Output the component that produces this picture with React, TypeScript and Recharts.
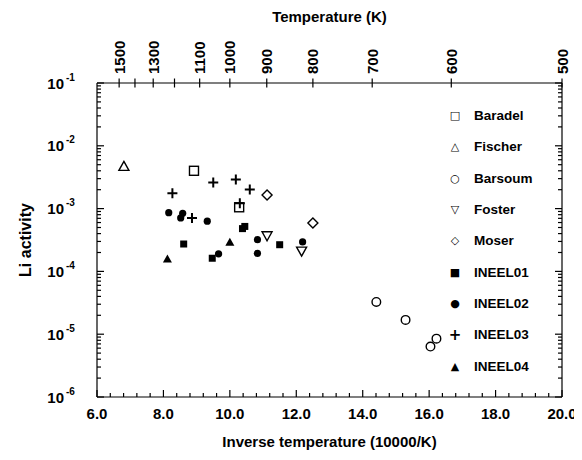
import { ScatterChart, Scatter, XAxis, YAxis, Legend } from "recharts";

// values (x = 10000/T, y = Li activity)
const baradelX = [8.92, 10.28];
const baradelY = [4.0e-3, 1.05e-3];
const fischerX = [6.81];
const fischerY = [4.7e-3];
const barsoumX = [14.41, 15.29, 16.22, 16.04];
const barsoumY = [3.26e-5, 1.69e-5, 8.5e-6, 6.35e-6];
const fosterX = [11.12, 12.16];
const fosterY = [3.7e-4, 2.1e-4];
const moserX = [11.12, 12.5];
const moserY = [1.64e-3, 5.9e-4];
const ineel01X = [8.61, 9.47, 10.38, 10.45, 11.5];
const ineel01Y = [2.73e-4, 1.62e-4, 4.8e-4, 5.2e-4, 2.66e-4];
const ineel02X = [8.16, 8.58, 8.52, 9.32, 9.66, 10.83, 10.83, 12.19];
const ineel02Y = [8.6e-4, 8.4e-4, 7.1e-4, 6.3e-4, 1.9e-4, 3.2e-4, 1.94e-4, 2.95e-4];
const ineel03X = [8.27, 9.5, 10.18, 10.6, 8.86, 10.3];
const ineel03Y = [1.75e-3, 2.6e-3, 2.9e-3, 2.02e-3, 7.1e-4, 1.22e-3];
const ineel04X = [8.12, 10.0];
const ineel04Y = [1.58e-4, 2.9e-4];

const xMajorTicks = [6, 8, 10, 12, 14, 16, 18, 20];
const tempTicks = [1500, 1400, 1300, 1200, 1100, 1000, 900, 800, 700, 600, 500];
const tempLabels = [1500, 1300, 1100, 1000, 900, 800, 700, 600, 500];
const decades = [-6, -5, -4, -3, -2, -1];

const FONT = "'Liberation Sans', Arial, Helvetica, sans-serif";

// chart sits at the body's 8px offset; margins put the plot box at (97,83)-(562,397)
const MARGIN = { top: 15, right: 19, bottom: 23, left: 29 };
const CHART_W = 574;
const CHART_H = 452;

const toPoints = (xs: number[], ys: number[]) => xs.map((x, i) => ({ x, y: ys[i] }));

const xMinor = Array.from({ length: 36 }, (_, i) => Number((6 + i * 0.4).toFixed(1)));
const yTicks: number[] = [];
decades.forEach((d) => {
  if (d === -1) {
    yTicks.push(0.1);
    return;
  }
  for (let m = 1; m <= 9; m++) yTicks.push(Number((m * Math.pow(10, d)).toPrecision(3)));
});
const isDecade = (v: number) => Math.abs(Math.log10(v) - Math.round(Math.log10(v))) < 1e-6;
const isMajorX = (v: number) => xMajorTicks.some((t) => Math.abs(t - v) < 1e-6);

const Mark = ({ kind, cx, cy }: { kind: string; cx: number; cy: number }) => {
  const s = { stroke: "#000", strokeWidth: 1.4, fill: "none" };
  switch (kind) {
    case "openSquare":
      return <rect x={cx - 4.5} y={cy - 4.5} width={9} height={9} {...s} />;
    case "openTriangle":
      return <polygon points={`${cx},${cy - 5} ${cx + 5},${cy + 4} ${cx - 5},${cy + 4}`} {...s} />;
    case "openCircle":
      return <circle cx={cx} cy={cy} r={4.3} {...s} />;
    case "openTriangleDown":
      return <polygon points={`${cx},${cy + 5} ${cx + 5},${cy - 4} ${cx - 5},${cy - 4}`} {...s} />;
    case "openDiamond":
      return <polygon points={`${cx},${cy - 5} ${cx + 5},${cy} ${cx},${cy + 5} ${cx - 5},${cy}`} {...s} />;
    case "square":
      return <rect x={cx - 3.5} y={cy - 3.5} width={7} height={7} fill="#000" />;
    case "circle":
      return <circle cx={cx} cy={cy} r={3.6} fill="#000" />;
    case "plus":
      return <path d={`M${cx - 5},${cy}H${cx + 5}M${cx},${cy - 5}V${cy + 5}`} stroke="#000" strokeWidth={2} />;
    default:
      return <polygon points={`${cx},${cy - 4.5} ${cx + 4.5},${cy + 3.5} ${cx - 4.5},${cy + 3.5}`} fill="#000" />;
  }
};

const seriesList = [
  { name: "Baradel", kind: "openSquare", glyph: "\u25A1", data: toPoints(baradelX, baradelY) },
  { name: "Fischer", kind: "openTriangle", glyph: "\u25B3", data: toPoints(fischerX, fischerY) },
  { name: "Barsoum", kind: "openCircle", glyph: "\u25CB", data: toPoints(barsoumX, barsoumY) },
  { name: "Foster", kind: "openTriangleDown", glyph: "\u25BD", data: toPoints(fosterX, fosterY) },
  { name: "Moser", kind: "openDiamond", glyph: "\u25C7", data: toPoints(moserX, moserY) },
  { name: "INEEL01", kind: "square", glyph: "\u25A0", data: toPoints(ineel01X, ineel01Y) },
  { name: "INEEL02", kind: "circle", glyph: "\u25CF", data: toPoints(ineel02X, ineel02Y) },
  { name: "INEEL03", kind: "plus", glyph: "+", data: toPoints(ineel03X, ineel03Y) },
  { name: "INEEL04", kind: "triangle", glyph: "\u25B2", data: toPoints(ineel04X, ineel04Y) },
];

const LeftTick = (p: any) => {
  const { x, y, payload } = p;
  const v = payload.value;
  const major = isDecade(v);
  return (
    <g>
      <path d={`M${x},${y}H${x + (major ? 7 : 4)}`} stroke="#000" strokeWidth={1.2} />
      {major && (
        <g fontFamily={FONT} fontWeight="bold" fill="#000">
          <text x={x - 33} y={y} textAnchor="end" dominantBaseline="central" fontSize={15}>
            10
          </text>
          <text x={x - 31} y={y - 6} textAnchor="start" dominantBaseline="central" fontSize={10}>
            {Math.round(Math.log10(v))}
          </text>
        </g>
      )}
    </g>
  );
};

const RightTick = (p: any) => {
  const { x, y, payload } = p;
  const len = isDecade(payload.value) ? 7 : 4;
  return <path d={`M${x},${y}H${x - len}`} stroke="#000" strokeWidth={1.2} />;
};

const BottomTick = (p: any) => {
  const { x, y, payload } = p;
  const v = payload.value;
  const major = isMajorX(v);
  return (
    <g>
      <path d={`M${x},${y}V${y - (major ? 7 : 4)}`} stroke="#000" strokeWidth={1.2} />
      {major && (
        <text
          x={x}
          y={y + 16}
          textAnchor="middle"
          dominantBaseline="central"
          fontFamily={FONT}
          fontWeight="bold"
          fontSize={15}
          fill="#000"
        >
          {v.toFixed(1)}
        </text>
      )}
    </g>
  );
};

const TopTick = (p: any) => {
  const { x, y, payload } = p;
  const t = Math.round(10000 / payload.value);
  return (
    <g>
      <path d={`M${x},${y - 4.5}V${y + 4.5}`} stroke="#000" strokeWidth={1.2} />
      {tempLabels.includes(t) && (
        <text
          x={x}
          y={y - 9}
          transform={`rotate(-90, ${x}, ${y - 9})`}
          textAnchor="start"
          dominantBaseline="central"
          fontFamily={FONT}
          fontWeight="bold"
          fontSize={15}
          fill="#000"
        >
          {t}
        </text>
      )}
    </g>
  );
};

const renderLegend = () => (
  <div style={{ fontFamily: FONT, fontWeight: "bold", fontSize: 13.5, color: "#000" }}>
    {seriesList.map((s) => (
      <div key={s.name} style={{ height: 31.3, display: "flex", alignItems: "center" }}>
        <span
          style={{
            width: 18,
            marginRight: 10,
            textAlign: "center",
            fontFamily: "'DejaVu Sans', sans-serif",
            fontWeight: s.kind === "plus" ? "bold" : "normal",
            fontSize: s.kind === "plus" ? 15 : 11,
          }}
        >
          {s.glyph}
        </span>
        <span>{s.name}</span>
      </div>
    ))}
  </div>
);

const allPoints = seriesList.flatMap((s) => s.data);

export default function App() {
  return (
    <ScatterChart width={CHART_W} height={CHART_H} margin={MARGIN}>
      <XAxis
        xAxisId="bottom"
        dataKey="x"
        type="number"
        domain={[6, 20]}
        ticks={xMinor}
        interval={0}
        height={40}
        tickSize={0}
        tickMargin={0}
        tick={BottomTick}
        axisLine={{ stroke: "#000", strokeWidth: 1.2 }}
        label={{
          value: "Inverse temperature (10000/K)",
          position: "insideBottom",
          offset: -10,
          style: { fontFamily: FONT, fontWeight: "bold", fontSize: 15, fill: "#000" },
        }}
      />
      <XAxis
        xAxisId="top"
        dataKey="x"
        orientation="top"
        type="number"
        domain={[6, 20]}
        ticks={tempTicks.map((t) => 10000 / t)}
        interval={0}
        height={60}
        tickSize={0}
        tickMargin={0}
        tick={TopTick}
        axisLine={{ stroke: "#000", strokeWidth: 1.2 }}
        label={{
          value: "Temperature (K)",
          position: "insideTop",
          offset: -12,
          style: { fontFamily: FONT, fontWeight: "bold", fontSize: 15, fill: "#000" },
        }}
      />
      <YAxis
        yAxisId="left"
        dataKey="y"
        type="number"
        scale="log"
        domain={[1e-6, 0.1]}
        ticks={yTicks}
        interval={0}
        width={60}
        tickSize={0}
        tickMargin={0}
        tick={LeftTick}
        axisLine={{ stroke: "#000", strokeWidth: 1.2 }}
        label={{
          value: "Li activity",
          angle: -90,
          position: "insideLeft",
          offset: -12,
          style: { fontFamily: FONT, fontWeight: "bold", fontSize: 16, fill: "#000", textAnchor: "middle" },
        }}
      />
      <YAxis
        yAxisId="right"
        dataKey="y"
        orientation="right"
        type="number"
        scale="log"
        domain={[1e-6, 0.1]}
        ticks={yTicks}
        interval={0}
        width={1}
        tickSize={0}
        tickMargin={0}
        tick={RightTick}
        axisLine={{ stroke: "#000", strokeWidth: 1.2 }}
      />
      {seriesList.map((s) => (
        <Scatter
          key={s.name}
          name={s.name}
          data={s.data}
          xAxisId="bottom"
          yAxisId="left"
          isAnimationActive={false}
          shape={(p: any) => <Mark kind={s.kind} cx={p.cx} cy={p.cy} />}
        />
      ))}
      <Scatter
        name="topAxisHolder"
        data={allPoints}
        xAxisId="top"
        yAxisId="right"
        isAnimationActive={false}
        legendType="none"
        shape={() => <g />}
      />
      <Legend
        layout="vertical"
        align="center"
        verticalAlign="middle"
        content={renderLegend}
        wrapperStyle={{ left: 438, top: 92, width: 120 }}
      />
    </ScatterChart>
  );
}
